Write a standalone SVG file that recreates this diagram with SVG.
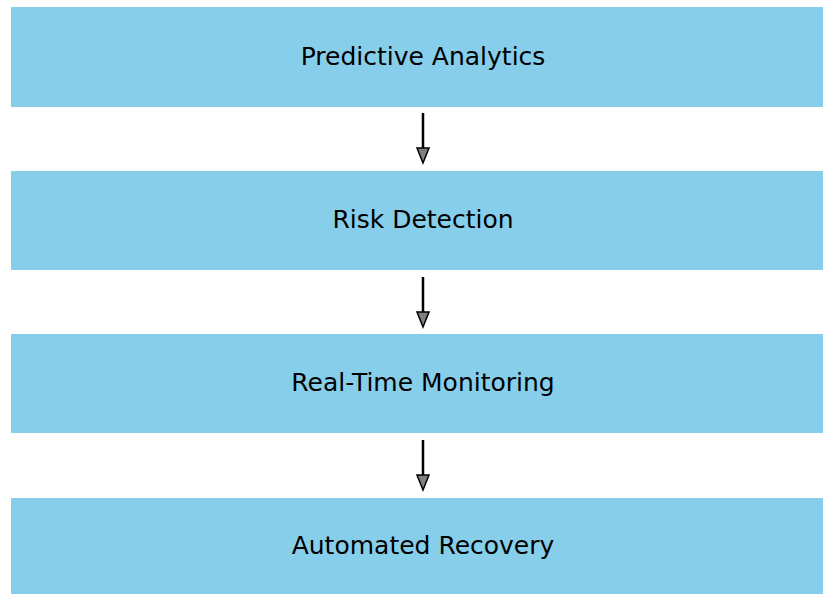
<svg xmlns="http://www.w3.org/2000/svg" width="823" height="594" viewBox="0 0 823 594">
<style>
.box{fill:#87CEEB;}
.lbl{font-family:"DejaVu Sans",sans-serif;font-size:25px;fill:#000;text-anchor:middle;dominant-baseline:central;}
.conn line{stroke:#000;stroke-width:2.5;}
.conn path{fill:#808080;stroke:#000;stroke-width:1.5;stroke-linejoin:miter;}
</style>
<rect width="823" height="594" fill="#fff"/>
<g id="n1"><rect class="box" x="11" y="7" width="812" height="100"/><text class="lbl" x="423" y="56">Predictive Analytics</text></g>
<g id="n2"><rect class="box" x="11" y="171" width="812" height="99"/><text class="lbl" x="423" y="219">Risk Detection</text></g>
<g id="n3"><rect class="box" x="11" y="334" width="812" height="99"/><text class="lbl" x="423" y="382.5">Real-Time Monitoring</text></g>
<g id="n4"><rect class="box" x="11" y="498" width="812" height="96"/><text class="lbl" x="423" y="545.5">Automated Recovery</text></g>
<g class="conn" id="connectors">
<line x1="423" y1="113" x2="423" y2="149"/><path d="M417,148 L429,148 L423,163 Z"/>
<line x1="423" y1="277" x2="423" y2="313"/><path d="M417,312 L429,312 L423,327 Z"/>
<line x1="423" y1="440" x2="423" y2="476"/><path d="M417,475 L429,475 L423,490 Z"/>
</g>
</svg>
